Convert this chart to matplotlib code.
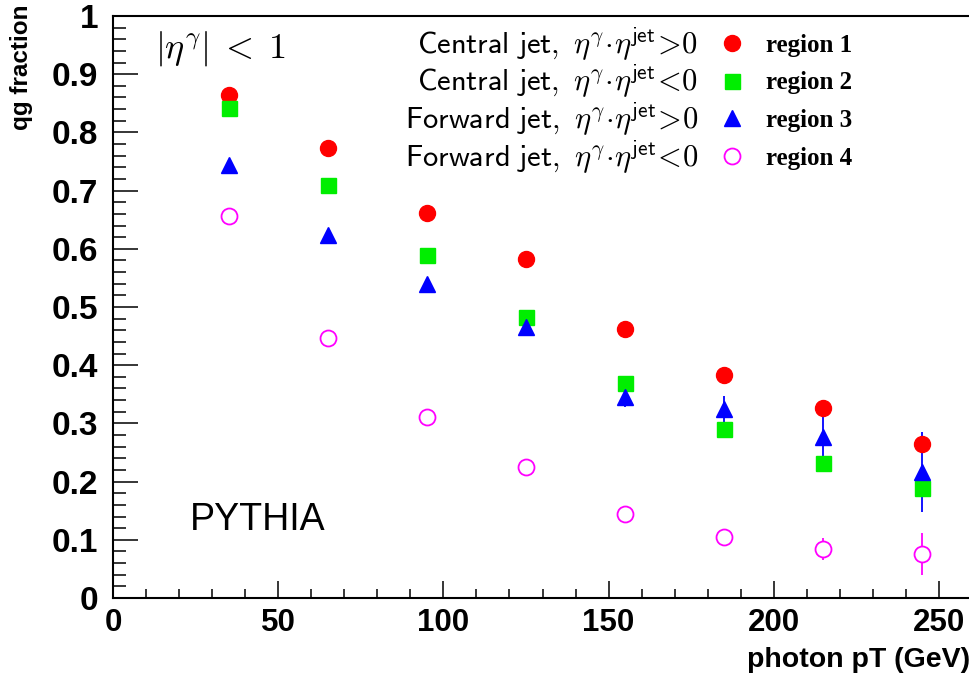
import matplotlib
matplotlib.use("Agg")
import matplotlib.pyplot as plt
from matplotlib.ticker import MultipleLocator, FixedLocator
from matplotlib.font_manager import FontProperties

plt.rcParams["mathtext.fontset"] = "cm"

# photon pT bin centres (GeV)
pt = [35, 65, 95, 125, 155, 185, 215, 245]

# qg fraction per region
region1 = [0.864, 0.773, 0.661, 0.582, 0.463, 0.384, 0.326, 0.265]
region2 = [0.842, 0.709, 0.589, 0.482, 0.370, 0.291, 0.232, 0.189]
region3 = [0.744, 0.623, 0.540, 0.466, 0.346, 0.324, 0.276, 0.217]
region4 = [0.656, 0.447, 0.311, 0.225, 0.145, 0.105, 0.084, 0.076]

# statistical uncertainties
err1 = [0.003, 0.003, 0.003, 0.003, 0.004, 0.005, 0.007, 0.010]
err2 = [0.003, 0.003, 0.003, 0.004, 0.005, 0.007, 0.010, 0.014]
err3 = [0.003, 0.004, 0.004, 0.006, 0.017, 0.023, 0.042, 0.069]
err4 = [0.003, 0.003, 0.003, 0.004, 0.005, 0.010, 0.019, 0.036]

region_labels = ["region 1", "region 2", "region 3", "region 4"]
region_desc = [
    r"$\mathsf{Central\ jet,}\ \eta^{\gamma}\!\cdot\!\eta^{\mathsf{jet}}\!>\!0$",
    r"$\mathsf{Central\ jet,}\ \eta^{\gamma}\!\cdot\!\eta^{\mathsf{jet}}\!<\!0$",
    r"$\mathsf{Forward\ jet,}\ \eta^{\gamma}\!\cdot\!\eta^{\mathsf{jet}}\!>\!0$",
    r"$\mathsf{Forward\ jet,}\ \eta^{\gamma}\!\cdot\!\eta^{\mathsf{jet}}\!<\!0$",
]
ytick_vals = [0, 0.1, 0.2, 0.3, 0.4, 0.5, 0.6, 0.7, 0.8, 0.9, 1.0]
ytick_text = ["0", "0.1", "0.2", "0.3", "0.4", "0.5", "0.6", "0.7", "0.8", "0.9", "1"]
xtick_vals = [0, 50, 100, 150, 200, 250]

W, H = 970, 674
fig = plt.figure(figsize=(W / 100, H / 100), dpi=100)
ax = fig.add_axes([113 / W, 76 / H, 859 / W, 582 / H])

styles = [
    dict(fmt="o", color="#ff0000", ms=11.5, mfc="#ff0000", mec="#ff0000"),
    dict(fmt="s", color="#00ee00", ms=10.8, mfc="#00ee00", mec="#00ee00"),
    dict(fmt="^", color="#0000ff", ms=11.5, mfc="#0000ff", mec="#0000ff"),
    dict(fmt="o", color="#ff00ff", ms=11.5, mfc="white", mec="#ff00ff", mew=1.3),
]
handles = []
for y, e, st in zip([region1, region2, region3, region4], [err1, err2, err3, err4], styles):
    h = ax.errorbar(pt, y, yerr=e, elinewidth=1.3, capsize=0, linestyle="none", **st)
    handles.append(h[0])

ax.set_xlim(0, 260)
ax.set_ylim(0, 1)

ax.xaxis.set_major_locator(FixedLocator(xtick_vals))
ax.xaxis.set_minor_locator(MultipleLocator(10))
ax.yaxis.set_major_locator(FixedLocator(ytick_vals))
ax.set_yticklabels(ytick_text)
ax.yaxis.set_minor_locator(MultipleLocator(0.02))

xtick_fp = FontProperties(family="Liberation Sans", weight="bold", size=22.5)
ytick_fp = FontProperties(family="Liberation Sans", weight="bold", size=24)
for lab in ax.get_xticklabels():
    lab.set_fontproperties(xtick_fp)
for lab in ax.get_yticklabels():
    lab.set_fontproperties(ytick_fp)

ax.tick_params(axis="both", which="both", direction="in", top=False, right=False, width=1.1)
ax.tick_params(axis="y", which="major", length=18, pad=10.5)
ax.tick_params(axis="y", which="minor", length=9.4)
ax.tick_params(axis="x", which="major", length=12.2, pad=7)
ax.tick_params(axis="x", which="minor", length=6.5)
for s in ax.spines.values():
    s.set_linewidth(1.5)

fig.text(1.0, 1 - 660 / H, "photon pT (GeV)", ha="right", va="center",
         family="Liberation Sans", weight="bold", size=20.5)
fig.text(22 / W, 1 - 5 / H, "qg fraction", ha="center", va="top", rotation=90,
         family="Liberation Sans", weight="bold", size=17.5)

ax.text(12.7, 0.929, r"$|\eta^{\gamma}|\;<\;1$", ha="left", va="baseline", size=26)
ax.text(23.3, 0.117, "PYTHIA", ha="left", va="baseline",
        family="Liberation Sans", size=27)

# region descriptions, right-aligned next to the legend markers
row_y = [0.951, 0.888, 0.823, 0.758]
for yy, d in zip(row_y, region_desc):
    ax.text(177.1, yy, d, ha="right", va="center", size=22)

leg = ax.legend(handles, region_labels, loc="upper left",
                bbox_to_anchor=(719.5 / W, 1 - 34 / H), bbox_transform=fig.transFigure,
                frameon=False, borderpad=0, borderaxespad=0, handlelength=1.0,
                handletextpad=0.86, labelspacing=0.58,
                prop=dict(family="Liberation Serif", weight="bold", size=18))

fig.savefig("out.png", dpi=100)
